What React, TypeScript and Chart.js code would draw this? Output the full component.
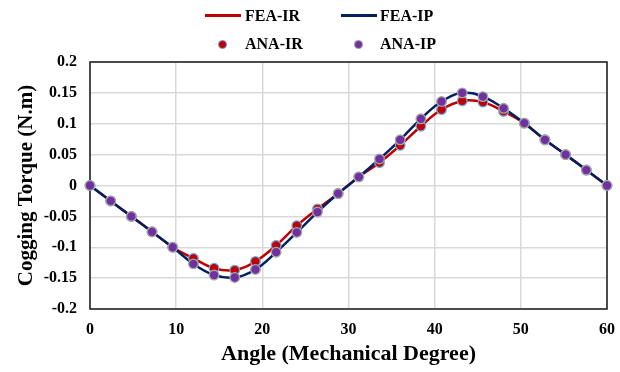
import React, { useEffect, useRef } from "react";
import { Chart, registerables } from "chart.js";

Chart.register(...registerables);

const angles = [0, 2.4, 4.8, 7.2, 9.6, 12, 14.4, 16.8, 19.2, 21.6, 24, 26.4, 28.8, 31.2, 33.6, 36, 38.4, 40.8, 43.2, 45.6, 48, 50.4, 52.8, 55.2, 57.6, 60];
const feaIR = [0, -0.025, -0.05, -0.075, -0.1, -0.118, -0.134, -0.137, -0.123, -0.097, -0.065, -0.038, -0.013, 0.014, 0.037, 0.065, 0.096, 0.123, 0.137, 0.135, 0.12, 0.101, 0.074, 0.05, 0.025, 0];
const feaIP = [0, -0.025, -0.05, -0.075, -0.1, -0.127, -0.145, -0.149, -0.136, -0.108, -0.076, -0.043, -0.013, 0.014, 0.043, 0.074, 0.108, 0.136, 0.15, 0.144, 0.125, 0.101, 0.074, 0.05, 0.025, 0];
const anaIR = [0, -0.025, -0.05, -0.075, -0.1, -0.118, -0.134, -0.137, -0.123, -0.097, -0.065, -0.038, -0.013, 0.014, 0.037, 0.065, 0.096, 0.123, 0.137, 0.135, 0.12, 0.101, 0.074, 0.05, 0.025, 0];
const anaIP = [0, -0.025, -0.05, -0.075, -0.1, -0.127, -0.145, -0.149, -0.136, -0.108, -0.076, -0.043, -0.013, 0.014, 0.043, 0.074, 0.108, 0.136, 0.15, 0.144, 0.125, 0.101, 0.074, 0.05, 0.025, 0];

const yTickValues = [-0.2, -0.15, -0.1, -0.05, 0, 0.05, 0.1, 0.15, 0.2];
const yTickLabels = ["-0.2", "-0.15", "-0.1", "-0.05", "0", "0.05", "0.1", "0.15", "0.2"];
const xTickValues = [0, 10, 20, 30, 40, 50, 60];
const xTickLabels = ["0", "10", "20", "30", "40", "50", "60"];

const RED = "#C00000";
const NAVY = "#002060";
const PURPLE = "#7030A0";
const SERIF = '"Liberation Serif", "Times New Roman", serif';

const toPts = (ys: number[]) => ys.map((y, i) => ({ x: angles[i], y }));

const boxPlugin = {
  id: "boxBorder",
  beforeDatasetsDraw(chart: any) {
    const { ctx, chartArea } = chart;
    ctx.save();
    ctx.strokeStyle = "#1a1a1a";
    ctx.lineWidth = 1.5;
    ctx.strokeRect(chartArea.left, chartArea.top, chartArea.right - chartArea.left, chartArea.bottom - chartArea.top);
    ctx.restore();
  },
};

export default function App() {
  const ref = useRef<HTMLCanvasElement | null>(null);

  useEffect(() => {
    if (!ref.current) return;
    const chart = new Chart(ref.current, {
      type: "line",
      data: {
        datasets: [
          {
            label: "ANA-IP",
            data: toPts(anaIP),
            showLine: false,
            pointRadius: 4.8,
            pointBackgroundColor: PURPLE,
            pointBorderColor: "#A6A6A6",
            pointBorderWidth: 1.3,
            borderColor: PURPLE,
            order: 1,
            clip: false,
          },
          {
            label: "ANA-IR",
            data: toPts(anaIR),
            showLine: false,
            pointRadius: 4.8,
            pointBackgroundColor: RED,
            pointBorderColor: "#6FA8DC",
            pointBorderWidth: 1.3,
            borderColor: RED,
            order: 2,
            clip: false,
          },
          {
            label: "FEA-IP",
            data: toPts(feaIP),
            borderColor: NAVY,
            borderWidth: 2.5,
            pointRadius: 0,
            tension: 0.4,
            order: 3,
            clip: false,
          },
          {
            label: "FEA-IR",
            data: toPts(feaIR),
            borderColor: RED,
            borderWidth: 2.5,
            pointRadius: 0,
            tension: 0.4,
            order: 4,
            clip: false,
          },
        ],
      },
      options: {
        animation: false,
        responsive: false,
        maintainAspectRatio: false,
        layout: { padding: { top: 62, right: 13, left: 0, bottom: 0 } },
        plugins: { legend: { display: false }, tooltip: { enabled: false } },
        scales: {
          x: {
            type: "linear",
            min: 0,
            max: 60,
            afterBuildTicks: (s: any) => {
              s.ticks = xTickValues.map((v) => ({ value: v }));
            },
            afterFit: (s: any) => {
              s.height = 63;
              s.paddingLeft = 0;
              s.paddingRight = 0;
            },
            ticks: {
              padding: 11,
              color: "#000",
              font: { family: SERIF, size: 16, weight: "bold" },
              callback: (v: any) => xTickLabels[xTickValues.indexOf(Number(v))] ?? "",
            },
            grid: { color: "#D9D9D9", lineWidth: 1.5, drawTicks: false },
            border: { display: false },
            title: {
              display: true,
              text: "Angle (Mechanical Degree)",
              color: "#000",
              font: { family: SERIF, size: 22, weight: "bold" },
              padding: { top: 0, bottom: 4 },
            },
          },
          y: {
            type: "linear",
            min: -0.2,
            max: 0.2,
            afterBuildTicks: (s: any) => {
              s.ticks = yTickValues.map((v) => ({ value: v }));
            },
            afterFit: (s: any) => {
              s.width = 90;
              s.paddingTop = 0;
              s.paddingBottom = 0;
            },
            ticks: {
              padding: 13,
              color: "#000",
              font: { family: SERIF, size: 16, weight: "bold" },
              callback: (v: any) => {
                const idx = yTickValues.findIndex((t) => Math.abs(t - Number(v)) < 1e-9);
                return idx >= 0 ? yTickLabels[idx] : "";
              },
            },
            grid: { color: "#D9D9D9", lineWidth: 1.5, drawTicks: false },
            border: { display: false },
            title: {
              display: true,
              text: "Cogging Torque (N.m)",
              color: "#000",
              font: { family: SERIF, size: 21, weight: "bold" },
              padding: { top: 14, bottom: 0 },
            },
          },
        },
      },
      plugins: [boxPlugin],
    });
    return () => chart.destroy();
  }, []);

  const legendText: React.CSSProperties = {
    position: "absolute",
    fontFamily: SERIF,
    fontWeight: "bold",
    fontSize: 16,
    lineHeight: "18px",
    color: "#000",
    whiteSpace: "nowrap",
  };
  const lineStyle = (left: number, top: number, color: string): React.CSSProperties => ({
    position: "absolute",
    left,
    top,
    width: 36,
    height: 2.5,
    background: color,
  });
  const dotStyle = (cx: number, cy: number, fill: string, ring: string): React.CSSProperties => ({
    position: "absolute",
    left: cx - 4,
    top: cy - 4,
    width: 6.6,
    height: 6.6,
    borderRadius: "50%",
    background: fill,
    border: `0.7px solid ${ring}`,
  });

  return (
    <div style={{ position: "fixed", left: 0, top: 0, width: 620, height: 372, background: "#fff" }}>
      <canvas ref={ref} width={620} height={372} style={{ position: "absolute", left: 0, top: 0 }} />
      <div style={lineStyle(205, 14, RED)} />
      <div style={{ ...legendText, left: 245, top: 7 }}>FEA-IR</div>
      <div style={lineStyle(341, 14, NAVY)} />
      <div style={{ ...legendText, left: 380, top: 7 }}>FEA-IP</div>
      <div style={dotStyle(222, 44, RED, "#6FA8DC")} />
      <div style={{ ...legendText, left: 245, top: 35 }}>ANA-IR</div>
      <div style={dotStyle(358, 44, PURPLE, "#A6A6A6")} />
      <div style={{ ...legendText, left: 380, top: 35 }}>ANA-IP</div>
    </div>
  );
}
